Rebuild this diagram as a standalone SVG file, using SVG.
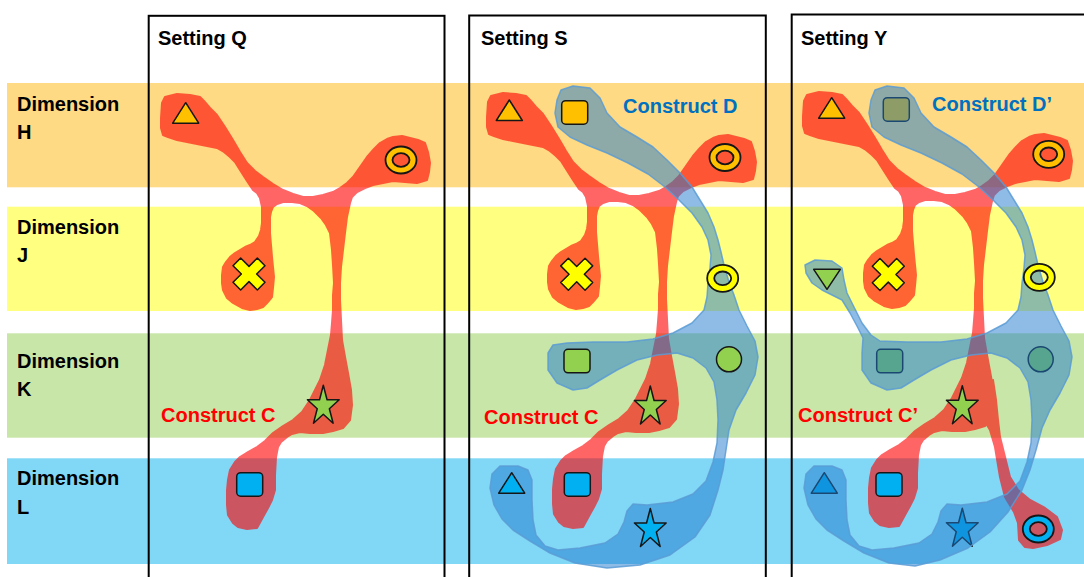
<svg xmlns="http://www.w3.org/2000/svg" xmlns:xlink="http://www.w3.org/1999/xlink" width="1084" height="577" viewBox="0 0 1084 577">
  <style>
    .lbl { font-family: "Liberation Sans", Arial, sans-serif; font-weight: bold; font-size: 20px; fill: #000; }
    .lbl-c { fill: #ff0000; }
    .lbl-d { fill: #0070c0; }
    .frame { fill: none; stroke: #000; stroke-width: 2; }
    .icon { stroke: #161616; stroke-width: 1.5; stroke-linejoin: round; }
    .icon .ringed { stroke-width: 1.8; }
    .orange { fill: #ffc000; }
    .yellow { fill: #ffff00; }
    .green { fill: #92d050; }
    .blue { fill: #00b0f0; }
    .construct-c { fill: #ff0000; stroke: #ff0000; stroke-width: 2; stroke-linejoin: round; }
    .construct-d { fill: rgb(30,122,205); fill-opacity: 0.5; stroke: #5b9bd5; stroke-opacity: 0.85; stroke-width: 1.5; stroke-linejoin: round; }
  </style>
  <defs>
    <path id="tri" d="M0,0 L13,20.5 L-13,20.5 Z"/>
    <path id="tri-down" d="M-13.3,0 L13.3,0 L0,20 Z"/>
    <rect id="sq" width="26" height="23.5" rx="4"/>
    <polygon id="star" points="0,-21 3.75,-6.49 15.88,-6.49 6.06,2.48 9.82,16.99 0,8.02 -9.82,16.99 -6.06,2.48 -15.88,-6.49 -3.75,-6.49"/>
    <path id="xmark" transform="rotate(45)" d="M-5.4,-17.2 L5.4,-17.2 L5.4,-5.4 L17.2,-5.4 L17.2,5.4 L5.4,5.4 L5.4,17.2 L-5.4,17.2 L-5.4,5.4 L-17.2,5.4 L-17.2,-5.4 L-5.4,-5.4 Z"/>
    <path id="ring" fill-rule="evenodd" d="M-15.5,0 A15.5,13.5 0 1 0 15.5,0 A15.5,13.5 0 1 0 -15.5,0 Z M-8.5,0 A8.5,6.8 0 1 0 8.5,0 A8.5,6.8 0 1 0 -8.5,0 Z"/>
    <!-- construct C outline, drawn at its Setting Q position -->
    <path id="blob-c" d="M162 103 L165 97 177 94 190 95 200 97 204 101 210 108 217 115 225 127 233 140 240 152 247 163 255 171 263 177 273 184 283 190 293 194 303 197 313 197 323 195 333 192 340 188 347 183 353 177 360 167 367 157 374 149 380 143 387 139 393 137 402 136 410 138 418 140 425 143 428 152 430 163 429 172 427 180 417 183 405 182 393 181 383 183 373 185 365 188 357 192 352 197 350 203 347 217 345 233 343 250 341 267 340 283 340 300 341 320 342 340 345 357 348 373 351 390 352 405 350 420 343 428 333 431 323 433 310 433 300 432 292 434 287 437 281 442 278 447 276 457 275 475 275 490 272 500 268 508 263 517 257 528 247 529 238 527 233 523 228 515 227 505 227 490 228 480 230 470 235 462 240 457 248 452 257 447 265 441 273 433 283 426 293 420 302 412 310 400 315 390 320 380 325 365 328 350 331 335 332 323 333 310 333 295 334 283 333 265 332 250 330 233 326 225 321 218 314 211 307 206 300 203 292 202 283 202 277 204 273 207 271 212 270 217 270 233 271 245 272 257 273 267 274 277 273 288 272 297 267 303 263 307 257 309 250 310 242 308 233 303 227 298 223 290 222 283 222 275 223 267 226 262 230 257 235 253 240 250 245 247 250 245 255 242 259 236 261 230 262 223 262 207 260 198 257 193 253 190 247 181 240 170 235 162 230 157 224 152 217 148 207 146 197 144 187 142 177 140 168 137 163 135 161 128 161 118 Z"/>
  </defs>

  <!-- dimension bands -->
  <g id="bands">
    <rect x="7" y="83" width="1077" height="104.3" fill="#fdda83"/>
    <rect x="7" y="206.7" width="1077" height="104.3" fill="#ffff80"/>
    <rect x="7" y="333.3" width="1077" height="104.4" fill="#c8e6a7"/>
    <rect x="7" y="458.3" width="1077" height="105.7" fill="#80d7f6"/>
  </g>

  <g id="dimension-labels" class="lbl">
    <text x="17" y="111">Dimension<tspan x="17" dy="28">H</tspan></text>
    <text x="17" y="234">Dimension<tspan x="17" dy="28">J</tspan></text>
    <text x="17" y="368">Dimension<tspan x="17" dy="28">K</tspan></text>
    <text x="17" y="485">Dimension<tspan x="17" dy="29">L</tspan></text>
  </g>

  <!-- setting frames -->
  <g id="frames">
    <rect class="frame" x="148.7" y="15.8" width="295.8" height="600"/>
    <rect class="frame" x="469.2" y="15.5" width="296.6" height="600"/>
    <rect class="frame" x="791.7" y="14.5" width="400" height="600"/>
    <text class="lbl" x="158" y="45">Setting Q</text>
    <text class="lbl" x="481" y="45">Setting S</text>
    <text class="lbl" x="801" y="45">Setting Y</text>
  </g>

  <!-- Setting Q -->
  <g id="setting-q">
    <g id="q-construct-c" class="construct-c" opacity="0.6">
      <use xlink:href="#blob-c"/>
    </g>
    <g id="q-items" class="icon">
      <use xlink:href="#tri" class="orange" x="185.7" y="102.7"/>
      <use xlink:href="#ring" class="orange ringed" x="401" y="160"/>
      <use xlink:href="#xmark" class="yellow" x="249" y="274"/>
      <use xlink:href="#star" class="green" x="323.3" y="406.3"/>
      <use xlink:href="#sq" class="blue" x="236.7" y="472.7"/>
    </g>
    <text class="lbl lbl-c" x="161" y="422">Construct C</text>
  </g>

  <!-- Setting S -->
  <g id="setting-s">
    <g id="s-construct-c" class="construct-c" opacity="0.6">
      <use xlink:href="#blob-c" transform="translate(326,-1)"/>
    </g>
    <path id="s-construct-d" class="construct-d" d="M573 86 L590 88 600 98 607 113 620 127 637 137 653 147 667 160 680 173 692 187 700 200 708 213 714 227 718 240 721 252 724 265 729 282 734 295 739 310 747 326 755 341 758 357 755 375 746 393 736 410 729 430 726 450 723 470 718 490 710 515 695 537 670 555 640 565 607 568 575 563 550 553 530 541 513 530 502 519 494 505 490 488 492 474 500 466 518 466 528 470 532 480 532 500 533 520 536 535 545 546 558 550 580 548 605 543 618 534 624 522 627 511 633 504 647 505 673 502 693 494 706 481 713 462 717 443 718 420 717 400 714 382 706 368 693 358 677 353 657 355 637 360 617 370 600 380 587 388 573 390 557 383 548 370 548 353 553 345 567 343 593 342 627 342 653 339 673 333 692 323 704 310 707 297 708 283 710 268 711 255 708 240 702 227 692 213 679 200 665 187 648 174 628 163 607 153 587 145 570 137 558 127 555 113 557 100 561 90 Z"/>
    <g id="s-items" class="icon">
      <use xlink:href="#tri" class="orange" x="509.3" y="100"/>
      <use xlink:href="#sq" class="orange" x="561.7" y="100.7"/>
      <use xlink:href="#ring" class="orange ringed" x="725" y="157.5"/>
      <use xlink:href="#xmark" class="yellow" x="576.7" y="274.2"/>
      <use xlink:href="#ring" class="yellow ringed" x="722.7" y="278.3"/>
      <use xlink:href="#sq" class="green" x="564" y="349.3"/>
      <circle class="green" cx="729" cy="359.3" r="12.5"/>
      <use xlink:href="#star" class="green" x="650.3" y="407"/>
      <use xlink:href="#tri" class="blue" x="511.7" y="472.7"/>
      <use xlink:href="#sq" class="blue" x="564.3" y="472.7"/>
      <use xlink:href="#star" class="blue" x="650.3" y="529.5"/>
    </g>
    <text class="lbl lbl-c" x="484" y="424">Construct C</text>
    <text class="lbl lbl-d" x="623" y="113">Construct D</text>
  </g>

  <!-- Setting Y -->
  <g id="setting-y">
    <g id="y-construct-c" class="construct-c" opacity="0.6">
      <use xlink:href="#blob-c" transform="translate(642,-2)"/>
      <path d="M984 400 L993 380 996 400 998 420 1000 437 1005 457 1010 477 1018 490 1030 500 1045 508 1057 517 1062 530 1060 539 1047 545 1033 548 1025 547 1019 540 1018 523 1014 512 1005 497 1000 477 995 447 990 430 984 420 Z"/>
    </g>
    <!-- items covered by construct D' -->
    <g id="y-items-under" class="icon">
      <use xlink:href="#sq" class="orange" x="883.3" y="97.7"/>
      <use xlink:href="#sq" class="green" x="876.7" y="349.3"/>
      <circle class="green" cx="1040.7" cy="359.3" r="12.5"/>
      <use xlink:href="#tri" class="blue" x="824.3" y="472.7"/>
      <use xlink:href="#star" class="blue" x="962.3" y="529.3"/>
    </g>
    <path id="y-construct-d" class="construct-d" d="M887 86 L904 88 914 98 921 113 934 127 951 137 967 147 981 160 994 173 1006 187 1014 200 1022 213 1028 227 1032 240 1035 252 1038 265 1043 282 1048 295 1053 310 1061 326 1069 341 1072 357 1069 375 1060 393 1050 410 1042 428 1036 450 1030 470 1022 490 1008 512 990 532 968 548 940 560 915 566 889 563 864 553 844 541 827 530 816 519 808 505 804 488 806 474 814 466 832 466 842 470 846 480 846 500 847 520 850 535 859 546 872 550 894 548 919 543 932 534 938 522 941 511 947 504 961 505 987 502 1007 494 1020 481 1027 462 1031 443 1032 420 1031 400 1028 382 1020 368 1007 358 991 353 971 355 951 360 931 370 914 380 901 388 887 390 871 383 862 370 862 353 863 338 858 328 850 313 842 300 832 295 822 290 812 283 806 273 805 265 815 260 832 261 842 268 844 280 847 293 854 307 862 323 871 335 880 341 907 342 941 342 967 339 987 333 1006 323 1018 310 1021 297 1022 283 1024 268 1025 255 1022 240 1016 227 1006 213 993 200 979 187 962 174 942 163 921 153 901 145 884 137 872 127 869 113 871 100 875 90 Z"/>
    <g id="y-items" class="icon">
      <use xlink:href="#tri" class="orange" x="831.7" y="97.7"/>
      <use xlink:href="#ring" class="orange ringed" x="1048.7" y="154.3"/>
      <use xlink:href="#tri-down" class="green" x="827" y="269.3"/>
      <use xlink:href="#xmark" class="yellow" x="888.3" y="274.5"/>
      <use xlink:href="#ring" class="yellow ringed" x="1039.3" y="277.3"/>
      <use xlink:href="#star" class="green" x="962.3" y="406.7"/>
      <use xlink:href="#sq" class="blue" x="876" y="472.7"/>
      <use xlink:href="#ring" class="blue ringed" x="1038.3" y="529"/>
    </g>
    <text class="lbl lbl-c" x="798" y="422">Construct C’</text>
    <text class="lbl lbl-d" x="932" y="111">Construct D’</text>
  </g>
</svg>
